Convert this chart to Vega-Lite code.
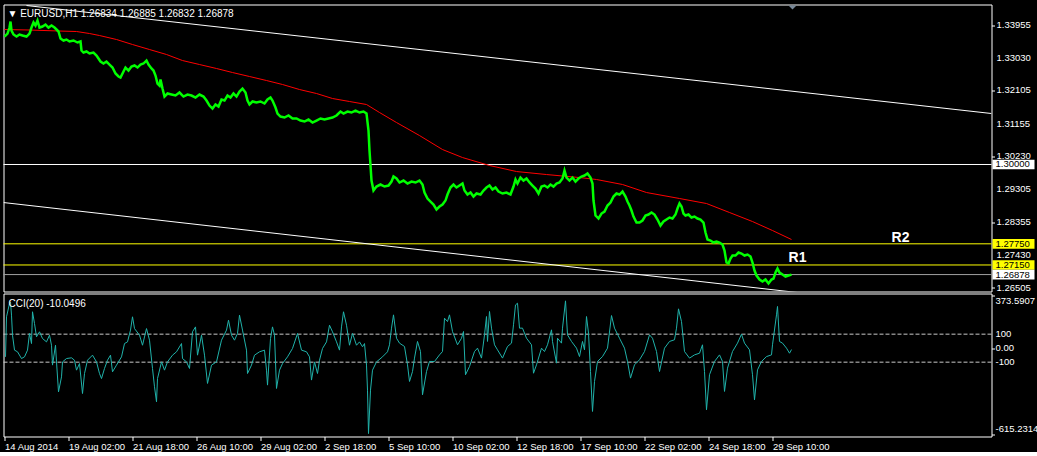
{
  "$schema": "https://vega.github.io/schema/vega-lite/v6.json",
  "background": "#000000",
  "padding": {"left": -1.5, "top": 3.5, "right": 0, "bottom": 0},
  "spacing": 2,
  "bounds": "flush",
  "config": {
    "view": {"stroke": "#ffffff", "strokeWidth": 1, "fill": "#000000"},
    "font": "Liberation Sans",
    "axis": {"labelColor": "#ffffff", "tickColor": "#ffffff", "domain": false, "grid": false, "labelFont": "Liberation Sans", "labelFontSize": 9.5, "labelOverlap": false, "title": null}
  },
  "datasets": {
    "price": [
      {"bar":5,"price":1.33629},{"bar":8,"price":1.33714},{"bar":10,"price":1.33884},{"bar":11,"price":1.34054},{"bar":12,"price":1.33799},{"bar":14,"price":1.33686},{"bar":17,"price":1.33629},{"bar":20,"price":1.33686},{"bar":23,"price":1.33657},{"bar":27,"price":1.33629},{"bar":30,"price":1.33714},{"bar":32,"price":1.33884},{"bar":34,"price":1.34026},{"bar":36,"price":1.33941},{"bar":38,"price":1.34083},{"bar":40,"price":1.33884},{"bar":43,"price":1.33913},{"bar":46,"price":1.33969},{"bar":49,"price":1.33884},{"bar":52,"price":1.33941},{"bar":55,"price":1.33884},{"bar":57,"price":1.33828},{"bar":59,"price":1.33771},{"bar":61,"price":1.33572},{"bar":64,"price":1.33516},{"bar":67,"price":1.33544},{"bar":70,"price":1.33487},{"bar":74,"price":1.33516},{"bar":78,"price":1.33459},{"bar":81,"price":1.33487},{"bar":82,"price":1.33232},{"bar":84,"price":1.33175},{"bar":87,"price":1.33204},{"bar":90,"price":1.33147},{"bar":94,"price":1.33175},{"bar":97,"price":1.3309},{"bar":99,"price":1.33005},{"bar":101,"price":1.3292},{"bar":104,"price":1.32863},{"bar":107,"price":1.3292},{"bar":110,"price":1.32835},{"bar":113,"price":1.3275},{"bar":116,"price":1.3258},{"bar":119,"price":1.32495},{"bar":121,"price":1.32466},{"bar":124,"price":1.32636},{"bar":126,"price":1.3275},{"bar":129,"price":1.32665},{"bar":132,"price":1.32778},{"bar":135,"price":1.32807},{"bar":138,"price":1.3275},{"bar":141,"price":1.32835},{"bar":144,"price":1.32863},{"bar":147,"price":1.32948},{"bar":149,"price":1.32835},{"bar":152,"price":1.32722},{"bar":154,"price":1.32665},{"bar":156,"price":1.32523},{"bar":158,"price":1.32296},{"bar":160,"price":1.32239},{"bar":161,"price":1.3241},{"bar":163,"price":1.32154},{"bar":165,"price":1.31927},{"bar":168,"price":1.32013},{"bar":172,"price":1.31984},{"bar":176,"price":1.31956},{"bar":180,"price":1.32041},{"bar":184,"price":1.31927},{"bar":188,"price":1.31984},{"bar":192,"price":1.31956},{"bar":196,"price":1.31899},{"bar":200,"price":1.31984},{"bar":204,"price":1.31927},{"bar":207,"price":1.31814},{"bar":210,"price":1.31672},{"bar":213,"price":1.31587},{"bar":216,"price":1.31701},{"bar":219,"price":1.31644},{"bar":222,"price":1.31842},{"bar":225,"price":1.31814},{"bar":228,"price":1.31956},{"bar":231,"price":1.31899},{"bar":234,"price":1.32013},{"bar":237,"price":1.31927},{"bar":240,"price":1.32069},{"bar":243,"price":1.32154},{"bar":246,"price":1.32041},{"bar":248,"price":1.31814},{"bar":250,"price":1.31701},{"bar":253,"price":1.31786},{"bar":257,"price":1.31757},{"bar":261,"price":1.31786},{"bar":265,"price":1.31729},{"bar":268,"price":1.31842},{"bar":271,"price":1.31899},{"bar":273,"price":1.31814},{"bar":276,"price":1.31616},{"bar":278,"price":1.31445},{"bar":281,"price":1.3136},{"bar":285,"price":1.31332},{"bar":289,"price":1.31389},{"bar":293,"price":1.31304},{"bar":297,"price":1.31304},{"bar":301,"price":1.31247},{"bar":305,"price":1.31218},{"bar":309,"price":1.31275},{"bar":313,"price":1.3119},{"bar":317,"price":1.31247},{"bar":321,"price":1.31304},{"bar":325,"price":1.31275},{"bar":329,"price":1.31304},{"bar":333,"price":1.31332},{"bar":337,"price":1.31389},{"bar":341,"price":1.31502},{"bar":344,"price":1.31445},{"bar":348,"price":1.31502},{"bar":352,"price":1.31474},{"bar":356,"price":1.3153},{"bar":360,"price":1.31474},{"bar":364,"price":1.31502},{"bar":367,"price":1.31445},{"bar":369,"price":1.30963},{"bar":370,"price":1.30396},{"bar":371,"price":1.29971},{"bar":372,"price":1.29545},{"bar":374,"price":1.29262},{"bar":377,"price":1.29375},{"bar":381,"price":1.29432},{"bar":385,"price":1.29375},{"bar":389,"price":1.29403},{"bar":392,"price":1.29517},{"bar":394,"price":1.29659},{"bar":397,"price":1.29602},{"bar":400,"price":1.29489},{"bar":404,"price":1.29545},{"bar":408,"price":1.2946},{"bar":412,"price":1.29517},{"bar":416,"price":1.29489},{"bar":420,"price":1.29545},{"bar":423,"price":1.29432},{"bar":425,"price":1.29205},{"bar":428,"price":1.29035},{"bar":431,"price":1.2895},{"bar":434,"price":1.28865},{"bar":437,"price":1.28723},{"bar":440,"price":1.28808},{"bar":443,"price":1.28865},{"bar":446,"price":1.28978},{"bar":448,"price":1.29148},{"bar":451,"price":1.29347},{"bar":454,"price":1.29432},{"bar":457,"price":1.29347},{"bar":460,"price":1.29403},{"bar":463,"price":1.2946},{"bar":465,"price":1.29262},{"bar":468,"price":1.29148},{"bar":471,"price":1.29205},{"bar":474,"price":1.29091},{"bar":477,"price":1.29177},{"bar":481,"price":1.29148},{"bar":484,"price":1.29262},{"bar":487,"price":1.29347},{"bar":490,"price":1.29403},{"bar":493,"price":1.2929},{"bar":496,"price":1.29347},{"bar":499,"price":1.29233},{"bar":503,"price":1.29177},{"bar":507,"price":1.29205},{"bar":511,"price":1.29148},{"bar":514,"price":1.29375},{"bar":516,"price":1.29574},{"bar":518,"price":1.2946},{"bar":521,"price":1.2963},{"bar":524,"price":1.29545},{"bar":527,"price":1.29602},{"bar":530,"price":1.29489},{"bar":533,"price":1.29403},{"bar":536,"price":1.29318},{"bar":539,"price":1.29177},{"bar":542,"price":1.29375},{"bar":545,"price":1.29403},{"bar":548,"price":1.29347},{"bar":551,"price":1.29432},{"bar":554,"price":1.29375},{"bar":557,"price":1.2946},{"bar":560,"price":1.29489},{"bar":563,"price":1.29602},{"bar":565,"price":1.29829},{"bar":567,"price":1.2963},{"bar":570,"price":1.29545},{"bar":573,"price":1.2963},{"bar":576,"price":1.29517},{"bar":579,"price":1.29602},{"bar":582,"price":1.29659},{"bar":585,"price":1.29687},{"bar":588,"price":1.29744},{"bar":591,"price":1.2963},{"bar":593,"price":1.2946},{"bar":594,"price":1.28978},{"bar":596,"price":1.28553},{"bar":599,"price":1.28468},{"bar":602,"price":1.28609},{"bar":605,"price":1.28666},{"bar":608,"price":1.28836},{"bar":611,"price":1.28921},{"bar":614,"price":1.29091},{"bar":617,"price":1.29177},{"bar":620,"price":1.29148},{"bar":623,"price":1.29233},{"bar":626,"price":1.29091},{"bar":628,"price":1.2895},{"bar":630,"price":1.28836},{"bar":632,"price":1.28694},{"bar":634,"price":1.28524},{"bar":637,"price":1.28354},{"bar":640,"price":1.28354},{"bar":643,"price":1.28411},{"bar":646,"price":1.28553},{"bar":649,"price":1.28581},{"bar":652,"price":1.28638},{"bar":655,"price":1.28581},{"bar":658,"price":1.28439},{"bar":661,"price":1.28269},{"bar":664,"price":1.28382},{"bar":667,"price":1.28439},{"bar":670,"price":1.28496},{"bar":673,"price":1.28468},{"bar":676,"price":1.28581},{"bar":678,"price":1.28751},{"bar":680,"price":1.28893},{"bar":682,"price":1.28808},{"bar":684,"price":1.28609},{"bar":686,"price":1.28553},{"bar":689,"price":1.28581},{"bar":692,"price":1.28496},{"bar":695,"price":1.28524},{"bar":698,"price":1.28468},{"bar":701,"price":1.28439},{"bar":704,"price":1.28354},{"bar":706,"price":1.28071},{"bar":708,"price":1.27872},{"bar":711,"price":1.27844},{"bar":714,"price":1.27787},{"bar":717,"price":1.27815},{"bar":720,"price":1.27787},{"bar":723,"price":1.2773},{"bar":725,"price":1.2756},{"bar":727,"price":1.2722},{"bar":729,"price":1.27191},{"bar":731,"price":1.27333},{"bar":733,"price":1.27418},{"bar":736,"price":1.27418},{"bar":739,"price":1.27503},{"bar":742,"price":1.27475},{"bar":745,"price":1.27418},{"bar":748,"price":1.27447},{"bar":751,"price":1.2739},{"bar":753,"price":1.2722},{"bar":755,"price":1.26993},{"bar":757,"price":1.26851},{"bar":760,"price":1.26738},{"bar":763,"price":1.26681},{"bar":766,"price":1.26738},{"bar":769,"price":1.26624},{"bar":772,"price":1.26738},{"bar":774,"price":1.26766},{"bar":776,"price":1.26936},{"bar":778,"price":1.2705},{"bar":780,"price":1.26936},{"bar":783,"price":1.26879},{"bar":786,"price":1.26823},{"bar":789,"price":1.26851},{"bar":792,"price":1.26878}
    ],
    "ma": [
      {"bar":5,"price":1.33828},{"bar":30,"price":1.33813},{"bar":60,"price":1.33785},{"bar":77,"price":1.33771},{"bar":90,"price":1.33714},{"bar":100,"price":1.33657},{"bar":117,"price":1.33544},{"bar":133,"price":1.33402},{"bar":150,"price":1.3326},{"bar":167,"price":1.33119},{"bar":183,"price":1.32948},{"bar":200,"price":1.32835},{"bar":217,"price":1.32722},{"bar":233,"price":1.32608},{"bar":250,"price":1.32495},{"bar":267,"price":1.32381},{"bar":283,"price":1.32268},{"bar":300,"price":1.32126},{"bar":317,"price":1.32013},{"bar":333,"price":1.31871},{"bar":350,"price":1.31786},{"bar":367,"price":1.31701},{"bar":380,"price":1.31474},{"bar":397,"price":1.3119},{"bar":420,"price":1.30821},{"bar":443,"price":1.30424},{"bar":463,"price":1.30197},{"bar":490,"price":1.29971},{"bar":517,"price":1.298},{"bar":547,"price":1.29715},{"bar":580,"price":1.2963},{"bar":597,"price":1.29574},{"bar":623,"price":1.29432},{"bar":647,"price":1.29205},{"bar":680,"price":1.29035},{"bar":707,"price":1.28893},{"bar":730,"price":1.28638},{"bar":753,"price":1.28382},{"bar":773,"price":1.28127},{"bar":792,"price":1.27872}
    ],
    "channel": [
      {"bar":27,"price":1.34508,"line":"upper"},{"bar":992,"price":1.31445,"line":"upper"},
      {"bar":4,"price":1.28921,"line":"lower"},{"bar":992,"price":1.25745,"line":"lower"}
    ],
    "priceTicks": [
      {"price":1.33955,"label":"1.33955"},{"price":1.3303,"label":"1.33030"},{"price":1.32105,"label":"1.32105"},{"price":1.31155,"label":"1.31155"},{"price":1.3023,"label":"1.30230"},{"price":1.29305,"label":"1.29305"},{"price":1.28355,"label":"1.28355"},{"price":1.2743,"label":"1.27430"},{"price":1.26505,"label":"1.26505"}
    ],
    "levels": [
      {"price":1.3,"kind":"round","label":"1.30000"},
      {"price":1.2775,"kind":"R2","label":"1.27750"},
      {"price":1.2715,"kind":"R1","label":"1.27150"},
      {"price":1.26878,"kind":"bid","label":"1.26878"}
    ],
    "notes": [
      {"bar":901,"price":1.27929,"name":"R2"},
      {"bar":798,"price":1.27347,"name":"R1"}
    ],
    "header": [
      {"bar":8,"price":1.34281,"name":"▼ EURUSD,H1  1.26834 1.26885 1.26832 1.26878"}
    ],
    "shift": [
      {"bar":793,"price":1.34537}
    ],
    "cciHeader": [
      {"bar":9,"cci":319,"name":"CCI(20) -10.0496"}
    ],
    "cciLevels": [{"cci":100},{"cci":-100}],
    "cciTicks": [
      {"cci":373.5907,"label":"373.5907","pos":"top"},
      {"cci":100,"label":"100","pos":"mid"},
      {"cci":0,"label":"0.00","pos":"mid"},
      {"cci":-100,"label":"-100","pos":"mid"},
      {"cci":-615.2314,"label":"-615.2314","pos":"bottom"}
    ],
    "cci": [
      {"bar":6,"cci":-62},{"bar":7,"cci":224},{"bar":10,"cci":319},{"bar":11,"cci":330},{"bar":12,"cci":236},{"bar":13,"cci":93},{"bar":15,"cci":-14},{"bar":18,"cci":-26},{"bar":22,"cci":-74},{"bar":25,"cci":-62},{"bar":28,"cci":-14},{"bar":30,"cci":105},{"bar":32,"cci":33},{"bar":33,"cci":260},{"bar":35,"cci":176},{"bar":37,"cci":81},{"bar":40,"cci":117},{"bar":43,"cci":69},{"bar":47,"cci":45},{"bar":50,"cci":93},{"bar":52,"cci":21},{"bar":53,"cci":-121},{"bar":56,"cci":21},{"bar":57,"cci":-98},{"bar":59,"cci":-312},{"bar":62,"cci":-205},{"bar":63,"cci":-98},{"bar":67,"cci":-74},{"bar":72,"cci":-69},{"bar":75,"cci":-86},{"bar":77,"cci":-157},{"bar":80,"cci":-110},{"bar":83,"cci":-324},{"bar":85,"cci":-181},{"bar":88,"cci":-86},{"bar":93,"cci":-50},{"bar":97,"cci":-98},{"bar":100,"cci":-181},{"bar":102,"cci":-217},{"bar":105,"cci":-145},{"bar":108,"cci":-86},{"bar":111,"cci":-50},{"bar":113,"cci":-169},{"bar":117,"cci":-121},{"bar":122,"cci":-62},{"bar":125,"cci":33},{"bar":128,"cci":45},{"bar":131,"cci":129},{"bar":133,"cci":224},{"bar":135,"cci":140},{"bar":140,"cci":93},{"bar":143,"cci":21},{"bar":147,"cci":140},{"bar":150,"cci":57},{"bar":153,"cci":-145},{"bar":155,"cci":-276},{"bar":157,"cci":-383},{"bar":158,"cci":-217},{"bar":162,"cci":-98},{"bar":165,"cci":-157},{"bar":168,"cci":-98},{"bar":173,"cci":-50},{"bar":177,"cci":-26},{"bar":182,"cci":33},{"bar":183,"cci":-74},{"bar":187,"cci":-98},{"bar":190,"cci":-145},{"bar":193,"cci":117},{"bar":196,"cci":152},{"bar":198,"cci":-50},{"bar":202,"cci":93},{"bar":205,"cci":-50},{"bar":208,"cci":-252},{"bar":212,"cci":-121},{"bar":217,"cci":-98},{"bar":222,"cci":57},{"bar":227,"cci":129},{"bar":229,"cci":200},{"bar":232,"cci":93},{"bar":235,"cci":57},{"bar":238,"cci":105},{"bar":240,"cci":236},{"bar":243,"cci":129},{"bar":247,"cci":-14},{"bar":248,"cci":-181},{"bar":252,"cci":-121},{"bar":255,"cci":-50},{"bar":260,"cci":-26},{"bar":265,"cci":-14},{"bar":267,"cci":-157},{"bar":268,"cci":-264},{"bar":271,"cci":69},{"bar":273,"cci":152},{"bar":275,"cci":93},{"bar":277,"cci":-288},{"bar":280,"cci":-157},{"bar":283,"cci":-110},{"bar":288,"cci":-62},{"bar":293,"cci":-2},{"bar":298,"cci":105},{"bar":302,"cci":-14},{"bar":307,"cci":-26},{"bar":310,"cci":-62},{"bar":312,"cci":-228},{"bar":315,"cci":-98},{"bar":318,"cci":-181},{"bar":320,"cci":-86},{"bar":323,"cci":-2},{"bar":327,"cci":45},{"bar":330,"cci":164},{"bar":333,"cci":117},{"bar":337,"cci":45},{"bar":340,"cci":-14},{"bar":342,"cci":152},{"bar":344,"cci":260},{"bar":347,"cci":164},{"bar":350,"cci":21},{"bar":353,"cci":105},{"bar":357,"cci":21},{"bar":360,"cci":45},{"bar":363,"cci":10},{"bar":365,"cci":33},{"bar":367,"cci":-121},{"bar":368,"cci":-300},{"bar":369,"cci":-610},{"bar":371,"cci":-300},{"bar":373,"cci":-157},{"bar":377,"cci":-98},{"bar":383,"cci":-62},{"bar":388,"cci":-26},{"bar":390,"cci":24},{"bar":392,"cci":143},{"bar":394,"cci":238},{"bar":397,"cci":71},{"bar":400,"cci":36},{"bar":405,"cci":12},{"bar":408,"cci":-119},{"bar":410,"cci":-238},{"bar":413,"cci":-167},{"bar":415,"cci":-71},{"bar":418,"cci":48},{"bar":421,"cci":-24},{"bar":423,"cci":-333},{"bar":427,"cci":-167},{"bar":430,"cci":-95},{"bar":435,"cci":-95},{"bar":440,"cci":-48},{"bar":443,"cci":-24},{"bar":445,"cci":214},{"bar":448,"cci":190},{"bar":450,"cci":238},{"bar":453,"cci":119},{"bar":458,"cci":24},{"bar":462,"cci":71},{"bar":464,"cci":119},{"bar":466,"cci":-190},{"bar":470,"cci":-131},{"bar":475,"cci":-24},{"bar":478,"cci":0},{"bar":482,"cci":-71},{"bar":485,"cci":95},{"bar":487,"cci":226},{"bar":488,"cci":48},{"bar":490,"cci":262},{"bar":492,"cci":143},{"bar":495,"cci":24},{"bar":498,"cci":-12},{"bar":503,"cci":-71},{"bar":508,"cci":12},{"bar":512,"cci":36},{"bar":514,"cci":167},{"bar":516,"cci":309},{"bar":518,"cci":321},{"bar":520,"cci":143},{"bar":523,"cci":143},{"bar":527,"cci":71},{"bar":532,"cci":24},{"bar":534,"cci":-179},{"bar":537,"cci":-119},{"bar":542,"cci":0},{"bar":545,"cci":-24},{"bar":548,"cci":24},{"bar":552,"cci":131},{"bar":553,"cci":48},{"bar":557,"cci":-107},{"bar":558,"cci":71},{"bar":562,"cci":36},{"bar":563,"cci":143},{"bar":566,"cci":338},{"bar":568,"cci":95},{"bar":572,"cci":48},{"bar":577,"cci":0},{"bar":580,"cci":-60},{"bar":583,"cci":48},{"bar":585,"cci":-12},{"bar":587,"cci":226},{"bar":589,"cci":107},{"bar":591,"cci":-167},{"bar":593,"cci":-452},{"bar":595,"cci":-238},{"bar":598,"cci":-95},{"bar":603,"cci":-60},{"bar":608,"cci":0},{"bar":612,"cci":233},{"bar":615,"cci":143},{"bar":620,"cci":71},{"bar":625,"cci":0},{"bar":628,"cci":-95},{"bar":631,"cci":-214},{"bar":635,"cci":-119},{"bar":640,"cci":-83},{"bar":645,"cci":-24},{"bar":650,"cci":95},{"bar":653,"cci":71},{"bar":657,"cci":-24},{"bar":660,"cci":-167},{"bar":665,"cci":0},{"bar":670,"cci":48},{"bar":675,"cci":60},{"bar":677,"cci":143},{"bar":679,"cci":281},{"bar":682,"cci":190},{"bar":685,"cci":-24},{"bar":690,"cci":-71},{"bar":695,"cci":-48},{"bar":700,"cci":-36},{"bar":703,"cci":24},{"bar":705,"cci":-167},{"bar":707,"cci":-440},{"bar":710,"cci":-190},{"bar":715,"cci":-95},{"bar":720,"cci":-48},{"bar":723,"cci":-95},{"bar":725,"cci":-309},{"bar":728,"cci":-143},{"bar":733,"cci":-24},{"bar":738,"cci":36},{"bar":742,"cci":100},{"bar":745,"cci":36},{"bar":750,"cci":-12},{"bar":753,"cci":-190},{"bar":755,"cci":-369},{"bar":758,"cci":-155},{"bar":762,"cci":-95},{"bar":767,"cci":-60},{"bar":772,"cci":-48},{"bar":773,"cci":24},{"bar":777,"cci":238},{"bar":778,"cci":298},{"bar":780,"cci":48},{"bar":783,"cci":36},{"bar":787,"cci":0},{"bar":790,"cci":-36},{"bar":792,"cci":-10.0496}
    ]
  },
  "vconcat": [
    {
      "width": 988,
      "height": 287,
      "layer": [
        {
          "data": {"name": "levels"},
          "mark": {"type": "rule", "strokeWidth": 1},
          "encoding": {
            "y": {"field": "price", "type": "quantitative",
                  "scale": {"domain": [1.26398, 1.34537], "nice": false, "zero": false},
                  "axis": {"orient": "right", "values": [1.33955, 1.3303, 1.32105, 1.31155, 1.3023, 1.29305, 1.28355, 1.2743, 1.26505], "labels": false, "tickSize": 3}},
            "color": {"field": "kind", "type": "nominal", "scale": {"domain": ["round", "R2", "R1", "bid"], "range": ["#ffffff", "#ffff00", "#ffff00", "#a0a0a0"]}, "legend": null}
          }
        },
        {
          "data": {"name": "channel"},
          "mark": {"type": "line", "color": "#ffffff", "strokeWidth": 1, "clip": true},
          "encoding": {
            "x": {"field": "bar", "type": "quantitative", "scale": {"domain": [4, 992], "nice": false, "zero": false}, "axis": null},
            "y": {"field": "price", "type": "quantitative"},
            "detail": {"field": "line", "type": "nominal"}
          }
        },
        {
          "data": {"name": "ma"},
          "mark": {"type": "line", "color": "#ff0000", "strokeWidth": 1},
          "encoding": {
            "x": {"field": "bar", "type": "quantitative"},
            "y": {"field": "price", "type": "quantitative"}
          }
        },
        {
          "data": {"name": "price"},
          "mark": {"type": "line", "color": "#00ff00", "strokeWidth": 2.5},
          "encoding": {
            "x": {"field": "bar", "type": "quantitative"},
            "y": {"field": "price", "type": "quantitative"}
          }
        },
        {
          "data": {"name": "notes"},
          "mark": {"type": "text", "fontSize": 14, "fontWeight": "bold", "color": "#ffffff", "font": "Liberation Sans"},
          "encoding": {
            "x": {"field": "bar", "type": "quantitative"},
            "y": {"field": "price", "type": "quantitative"},
            "text": {"field": "name"}
          }
        },
        {
          "data": {"name": "header"},
          "mark": {"type": "text", "fontSize": 10, "align": "left", "baseline": "middle", "color": "#ffffff", "font": "Liberation Sans"},
          "encoding": {
            "x": {"field": "bar", "type": "quantitative"},
            "y": {"field": "price", "type": "quantitative"},
            "text": {"field": "name"}
          }
        },
        {
          "data": {"name": "shift"},
          "mark": {"type": "point", "shape": "M-1,-0.5L1,-0.5L0,0.5Z", "size": 64, "filled": true, "opacity": 1, "color": "#778899", "strokeWidth": 0, "yOffset": 3},
          "encoding": {
            "x": {"field": "bar", "type": "quantitative"},
            "y": {"field": "price", "type": "quantitative"}
          }
        },
        {
          "data": {"name": "priceTicks"},
          "mark": {"type": "text", "align": "left", "baseline": "middle", "dx": 5, "fontSize": 9.5, "color": "#ffffff", "font": "Liberation Sans"},
          "encoding": {
            "x": {"datum": 992, "type": "quantitative"},
            "y": {"field": "price", "type": "quantitative"},
            "text": {"field": "label"}
          }
        },
        {
          "data": {"name": "levels"},
          "mark": {"type": "point", "shape": "M-1,-0.23H1V0.23H-1Z", "size": 1764, "filled": true, "opacity": 1, "strokeWidth": 0, "xOffset": 22},
          "encoding": {
            "x": {"datum": 992, "type": "quantitative"},
            "y": {"field": "price", "type": "quantitative"},
            "fill": {"field": "kind", "type": "nominal", "scale": {"domain": ["round", "R2", "R1", "bid"], "range": ["#ffffff", "#ffff00", "#ffff00", "#ffffff"]}, "legend": null}
          }
        },
        {
          "data": {"name": "levels"},
          "mark": {"type": "text", "align": "left", "baseline": "middle", "dx": 4, "fontSize": 9.5, "color": "#000000", "font": "Liberation Sans"},
          "encoding": {
            "x": {"datum": 992, "type": "quantitative"},
            "y": {"field": "price", "type": "quantitative"},
            "text": {"field": "label"}
          }
        }
      ]
    },
    {
      "width": 988,
      "height": 143,
      "layer": [
        {
          "data": {"name": "cciLevels"},
          "mark": {"type": "rule", "color": "#c8c8c8", "strokeDash": [4, 2], "strokeWidth": 1},
          "encoding": {
            "y": {"field": "cci", "type": "quantitative",
                  "scale": {"domain": [-631, 390.5], "nice": false, "zero": false},
                  "axis": {"orient": "right", "values": [373.5907, 100, 0, -100, -615.2314], "labels": false, "tickSize": 3}}
          }
        },
        {
          "data": {"name": "cci"},
          "mark": {"type": "line", "color": "#20b2aa", "strokeWidth": 1},
          "encoding": {
            "x": {"field": "bar", "type": "quantitative", "scale": {"domain": [4, 992], "nice": false, "zero": false},
                  "axis": {"orient": "bottom", "values": [5, 69, 133, 197, 261, 325, 389, 453, 517, 581, 645, 709, 773], "labelExpr": "['14 Aug 2014','19 Aug 02:00','21 Aug 18:00','26 Aug 10:00','29 Aug 02:00','2 Sep 18:00','5 Sep 10:00','10 Sep 02:00','12 Sep 18:00','17 Sep 10:00','22 Sep 02:00','24 Sep 18:00','29 Sep 10:00'][round((datum.value - 5) / 64)]", "labelAlign": "left", "labelFlush": false, "labelOverlap": false, "tickSize": 4, "labelPadding": 1}},
            "y": {"field": "cci", "type": "quantitative"}
          }
        },
        {
          "data": {"name": "cciHeader"},
          "mark": {"type": "text", "fontSize": 10, "align": "left", "baseline": "middle", "color": "#ffffff", "font": "Liberation Sans"},
          "encoding": {
            "x": {"field": "bar", "type": "quantitative"},
            "y": {"field": "cci", "type": "quantitative"},
            "text": {"field": "name"}
          }
        },
        {
          "data": {"name": "cciTicks"},
          "transform": [{"filter": "datum.pos == 'mid'"}],
          "mark": {"type": "text", "align": "left", "baseline": "middle", "dx": 4, "fontSize": 9.5, "color": "#ffffff", "font": "Liberation Sans"},
          "encoding": {
            "x": {"datum": 992, "type": "quantitative"},
            "y": {"field": "cci", "type": "quantitative"},
            "text": {"field": "label"}
          }
        },
        {
          "data": {"name": "cciTicks"},
          "transform": [{"filter": "datum.pos == 'top'"}],
          "mark": {"type": "text", "align": "left", "baseline": "top", "dx": 4, "fontSize": 9.5, "color": "#ffffff", "font": "Liberation Sans"},
          "encoding": {
            "x": {"datum": 992, "type": "quantitative"},
            "y": {"field": "cci", "type": "quantitative"},
            "text": {"field": "label"}
          }
        },
        {
          "data": {"name": "cciTicks"},
          "transform": [{"filter": "datum.pos == 'bottom'"}],
          "mark": {"type": "text", "align": "left", "baseline": "bottom", "dx": 4, "fontSize": 9.5, "color": "#ffffff", "font": "Liberation Sans"},
          "encoding": {
            "x": {"datum": 992, "type": "quantitative"},
            "y": {"field": "cci", "type": "quantitative"},
            "text": {"field": "label"}
          }
        }
      ]
    }
  ]
}
